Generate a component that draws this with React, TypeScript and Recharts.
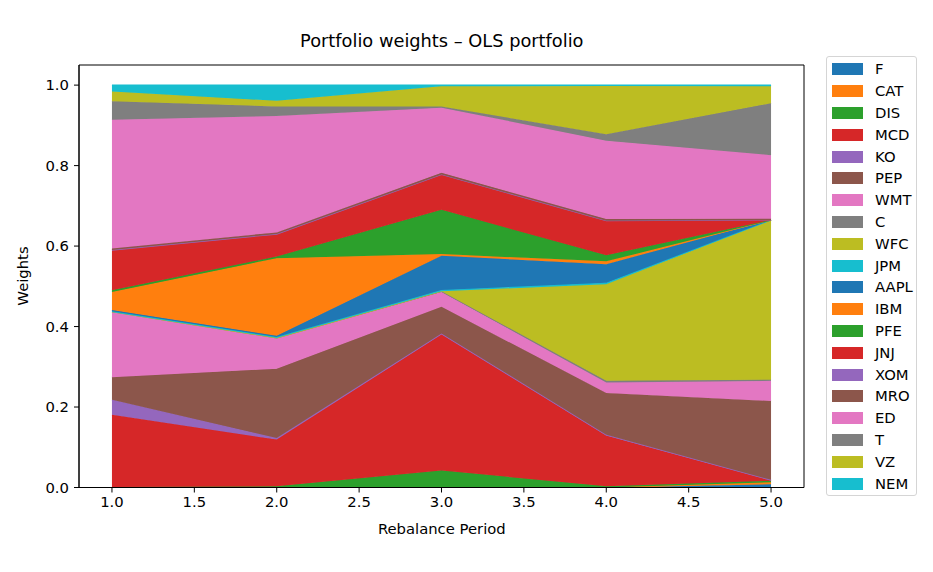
import React from 'react';
import { AreaChart, Area, XAxis, YAxis, ReferenceArea } from 'recharts';

// rebalance periods
const periods = [1, 2, 3, 4, 5];

// weights per ticker, one value per period (stacked bottom -> top)
const F = [0, 0, 0, 0, 0.008];
const CAT = [0, 0, 0, 0, 0.005];
const DIS = [0.001, 0.003, 0.042, 0.003, 0.004];
const MCD = [0.18, 0.116, 0.338, 0.126, 0.0];
const KO = [0.037, 0.004, 0.003, 0.002, 0.002];
const PEP = [0.056, 0.172, 0.066, 0.104, 0.196];
const WMT = [0.163, 0.077, 0.037, 0.026, 0.05];
const C = [0, 0, 0.002, 0.004, 0.003];
const WFC = [0, 0, 0, 0.24, 0.397];
const JPM = [0.001, 0.002, 0.003, 0.004, 0];
const AAPL = [0.003, 0.003, 0.085, 0.046, 0];
const IBM = [0.045, 0.193, 0.004, 0.007, 0];
const PFE = [0.004, 0.004, 0.11, 0.015, 0];
const JNJ = [0.1, 0.056, 0.088, 0.086, 0];
const XOM = [0, 0, 0, 0, 0];
const MRO = [0.004, 0.004, 0.004, 0.004, 0.003];
const ED = [0.32, 0.289, 0.162, 0.195, 0.158];
const T = [0.046, 0.024, 0.003, 0.016, 0.129];
const VZ = [0.024, 0.014, 0.05, 0.12, 0.042];
const NEM = [0.016, 0.039, 0.003, 0.002, 0.003];

const xTicks = [1, 1.5, 2, 2.5, 3, 3.5, 4, 4.5, 5];
const yTicks = [0, 0.2, 0.4, 0.6, 0.8, 1.0];

const tab10 = ['#1f77b4', '#ff7f0e', '#2ca02c', '#d62728', '#9467bd', '#8c564b', '#e377c2', '#7f7f7f', '#bcbd22', '#17becf'];

const series: [string, number[]][] = [
  ['F', F], ['CAT', CAT], ['DIS', DIS], ['MCD', MCD], ['KO', KO],
  ['PEP', PEP], ['WMT', WMT], ['C', C], ['WFC', WFC], ['JPM', JPM],
  ['AAPL', AAPL], ['IBM', IBM], ['PFE', PFE], ['JNJ', JNJ], ['XOM', XOM],
  ['MRO', MRO], ['ED', ED], ['T', T], ['VZ', VZ], ['NEM', NEM],
];

const data = periods.map((p, i) => {
  const row: Record<string, number> = { x: p };
  series.forEach(([name, vals]) => { row[name] = vals[i]; });
  return row;
});

const FONT = '"DejaVu Sans", sans-serif';
const FS = 14.8;
const tickStyle = { fill: '#000', fontSize: FS, fontFamily: FONT };

export default function App() {
  return (
    <div style={{ position: 'absolute', left: 0, top: 0, width: 933, height: 572, background: '#fff', fontFamily: FONT }}>
      <AreaChart width={933} height={572} data={data} margin={{ top: 65, right: 129, left: 19, bottom: 54.5 }}>
        <XAxis
          dataKey="x"
          type="number"
          domain={[0.8, 5.2]}
          ticks={xTicks}
          tickFormatter={(v: number) => v.toFixed(1)}
          height={30}
          tick={tickStyle}
          tickSize={5}
          tickMargin={4}
          stroke="#000"
          tickLine={{ stroke: '#000' }}
          allowDataOverflow
        />
        <YAxis
          type="number"
          domain={[0, 1.05]}
          ticks={yTicks}
          tickFormatter={(v: number) => v.toFixed(1)}
          width={60}
          tick={tickStyle}
          tickSize={5}
          tickMargin={5}
          stroke="#000"
          tickLine={{ stroke: '#000' }}
          allowDataOverflow
        />
        {series.map(([name], i) => (
          <Area
            key={name}
            dataKey={name}
            stackId="w"
            type="linear"
            fill={tab10[i % 10]}
            fillOpacity={1}
            stroke={tab10[i % 10]}
            strokeWidth={1.3}
            isAnimationActive={false}
          />
        ))}
        <ReferenceArea x1={0.8} x2={5.2} y1={0} y2={1.05} fill="none" stroke="#000" strokeWidth={1} ifOverflow="visible" />
      </AreaChart>

      <div style={{ position: 'absolute', left: 441.8, top: 30, transform: 'translateX(-50%)', fontSize: 17.8, whiteSpace: 'nowrap' }}>
        Portfolio weights – OLS portfolio
      </div>
      <div style={{ position: 'absolute', left: 441.8, top: 520, transform: 'translateX(-50%)', fontSize: FS, whiteSpace: 'nowrap' }}>
        Rebalance Period
      </div>
      <div style={{ position: 'absolute', left: 22, top: 276, transform: 'translate(-50%, -50%) rotate(-90deg)', fontSize: FS, whiteSpace: 'nowrap' }}>
        Weights
      </div>

      <div style={{ position: 'absolute', left: 826, top: 56, width: 91, height: 440, border: '1px solid #d5d5d5', borderRadius: 3, boxSizing: 'border-box' }}>
        {series.map(([name], i) => (
          <div key={name} style={{ position: 'absolute', left: 5, top: 6.3 + i * 21.8, height: 12, display: 'flex', alignItems: 'center' }}>
            <div style={{ width: 31, height: 12, background: tab10[i % 10] }} />
            <span style={{ marginLeft: 12, fontSize: FS, lineHeight: '12px' }}>{name}</span>
          </div>
        ))}
      </div>
    </div>
  );
}
